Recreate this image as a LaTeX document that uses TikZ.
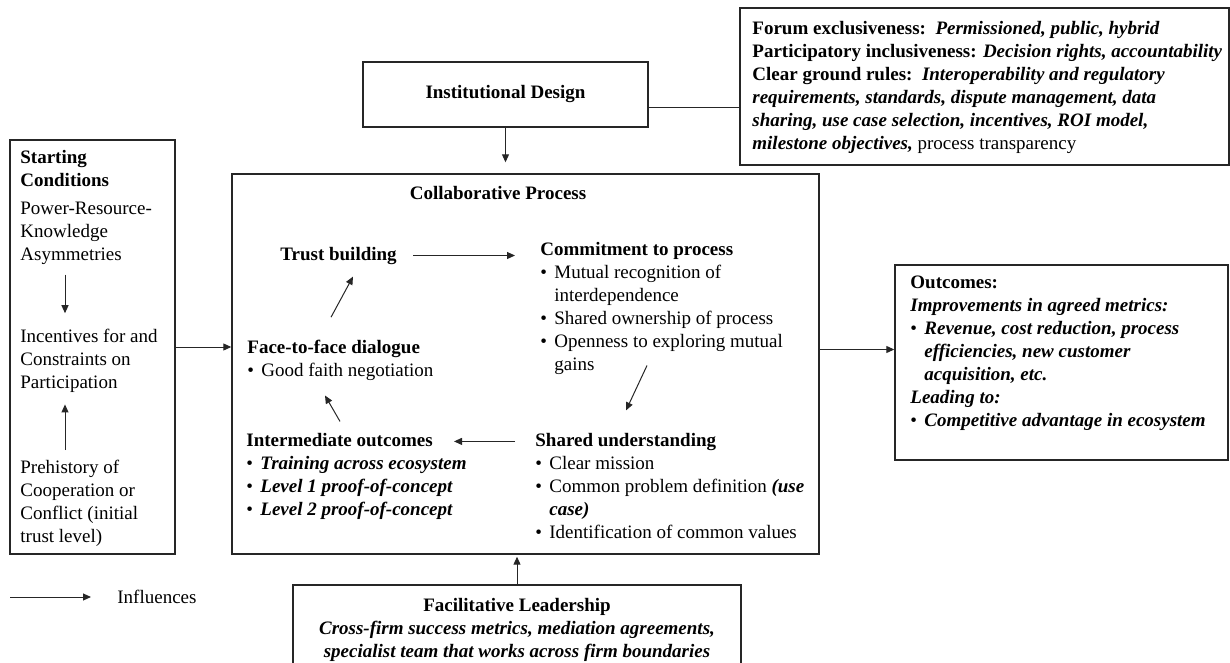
\documentclass[tikz,border=0pt]{standalone}
\usepackage{fontspec}
\setmainfont{Liberation Serif}
\usetikzlibrary{arrows.meta}
\newcommand{\bitem}{\makebox[7pt][l]{\textbullet}}
\newcommand{\bcont}{\hspace*{7pt}}
\newcommand{\bfit}[1]{\textbf{\textit{#1}}}

\begin{document}
\begin{tikzpicture}[x=0.5pt,y=-0.5pt,
  every node/.style={font=\fontsize{9.5}{11.5}\selectfont},
  box/.style={draw=black!85,line width=0.7pt,inner sep=0},
  txt/.style={inner sep=0,align=left,anchor=base west},
  link/.style={->,draw=black!85,line width=0.5pt},
  >={Triangle[length=4pt,width=3.5pt]}]
\useasboundingbox (0,0) rectangle (1230,663);
\clip (0,0) rectangle (1230,663);

\node[box,minimum width=244.5pt,minimum height=78.5pt] (rules) at (984.5,86.5) {};
\node[txt] (rulestxt) at (752,150) {\textbf{Forum exclusiveness:}\ \ \bfit{Permissioned, public, hybrid}\\
  \textbf{Participatory inclusiveness:} \bfit{Decision rights, accountability}\\
  \textbf{Clear ground rules:}\ \ \bfit{Interoperability and regulatory}\\
  \bfit{requirements, standards, dispute management, data}\\
  \bfit{sharing, use case selection, incentives, ROI model,}\\
  \bfit{milestone objectives,} process transparency};

\node[box,minimum width=142.5pt,minimum height=32.5pt] (inst) at (505.5,94.5) {\textbf{Institutional Design}};
\node[box,minimum width=82.5pt,minimum height=207pt] (start) at (92.5,347) {};
\node[box,minimum width=293.5pt,minimum height=190pt] (collab) at (525.5,364) {};
\node[box,minimum width=166.5pt,minimum height=97.5pt] (outc) at (1061.5,362.5) {};
\node[box,minimum width=224pt,minimum height=50pt] (facil) at (517,635) {};

\node[txt] (startt) at (20,187) {\textbf{Starting}\\\textbf{Conditions}};
\node[txt] (asym) at (20,260) {Power-Resource-\\Knowledge\\Asymmetries};
\node[txt] (incent) at (20,388) {Incentives for and\\Constraints on\\Participation};
\node[txt] (prehist) at (20,542) {Prehistory of\\Cooperation or\\Conflict (initial\\trust level)};
\coordinate (axis) at (65,0);
\draw[link,shorten <=5pt,shorten >=7.5pt] (asym.south -| axis) -- (incent.north -| axis);
\draw[link,shorten <=4.5pt,shorten >=6pt] (prehist.north -| axis) -- (incent.south -| axis);

\node[anchor=base,inner sep=0] (title) at (498,200) {\textbf{Collaborative Process}};
\node[txt] (trust) at (280,260) {\textbf{Trust building}};
\node[txt] (commit) at (540,370) {\textbf{Commitment to process}\\
  \bitem Mutual recognition of\\
  \bcont interdependence\\
  \bitem Shared ownership of process\\
  \bitem Openness to exploring mutual\\
  \bcont gains};
\node[txt] (face) at (247,376) {\textbf{Face-to-face dialogue}\\
  \bitem Good faith negotiation};
\node[txt] (inter) at (246,515) {\textbf{Intermediate outcomes}\\
  \bitem\bfit{Training across ecosystem}\\
  \bitem\bfit{Level 1 proof-of-concept}\\
  \bitem\bfit{Level 2 proof-of-concept}};
\node[txt] (shared) at (535,538) {\textbf{Shared understanding}\\
  \bitem Clear mission\\
  \bitem Common problem definition \bfit{(use}\\
  \bcont\bfit{case)}\\
  \bitem Identification of common values};

\draw[link,shorten <=8pt,shorten >=12.5pt] (trust.east) -- (trust.east -| commit.west);
\draw[link] ([xshift=53.5pt,yshift=4.5pt]commit.south west) -- ([xshift=45.5pt,yshift=11pt]shared.north west);
\draw[link] ([yshift=-4.5pt,xshift=-10pt]shared.north west) -- ([yshift=-4.5pt,xshift=104pt]inter.north west);
\draw[link] ([xshift=47pt,yshift=5.5pt]inter.north west) -- ([xshift=39pt,yshift=-7.5pt]face.south west);
\draw[link] ([xshift=42pt,yshift=11pt]face.north west) -- ([xshift=36.5pt,yshift=-6pt]trust.south west);

\node[txt] (outctxt) at (910,426) {\textbf{Outcomes:}\\
  \bfit{Improvements in agreed metrics:}\\
  \bitem\bfit{Revenue, cost reduction, process}\\
  \bcont\bfit{efficiencies, new customer}\\
  \bcont\bfit{acquisition, etc.}\\
  \bfit{Leading to:}\\
  \bitem\bfit{Competitive advantage in ecosystem}};

\node[anchor=base,inner sep=0,align=center] (faciltxt) at (517,657) {\textbf{Facilitative Leadership}\\
  \bfit{Cross-firm success metrics, mediation agreements,}\\
  \bfit{specialist team that works across firm boundaries}};

\draw[link,shorten >=5.5pt] (inst.south) -- (inst.south |- collab.north);
\draw[draw=black!85,line width=0.5pt] ([yshift=-6.5pt]inst.east) -- ([yshift=-6.5pt]inst.east -| rules.west);
\draw[link] (start.east) -- (start.east -| collab.west);
\draw[link] ([yshift=6.5pt]outc.west -| collab.east) -- ([yshift=6.5pt]outc.west);
\draw[link,shorten >=1pt] (facil.north) -- (facil.north |- collab.south);

\coordinate (key) at (10,597);
\node[anchor=west,inner sep=0] (infl) at (117,597) {Influences};
\draw[link,shorten >=13pt] (key) -- (infl.west);
\end{tikzpicture}
\end{document}
